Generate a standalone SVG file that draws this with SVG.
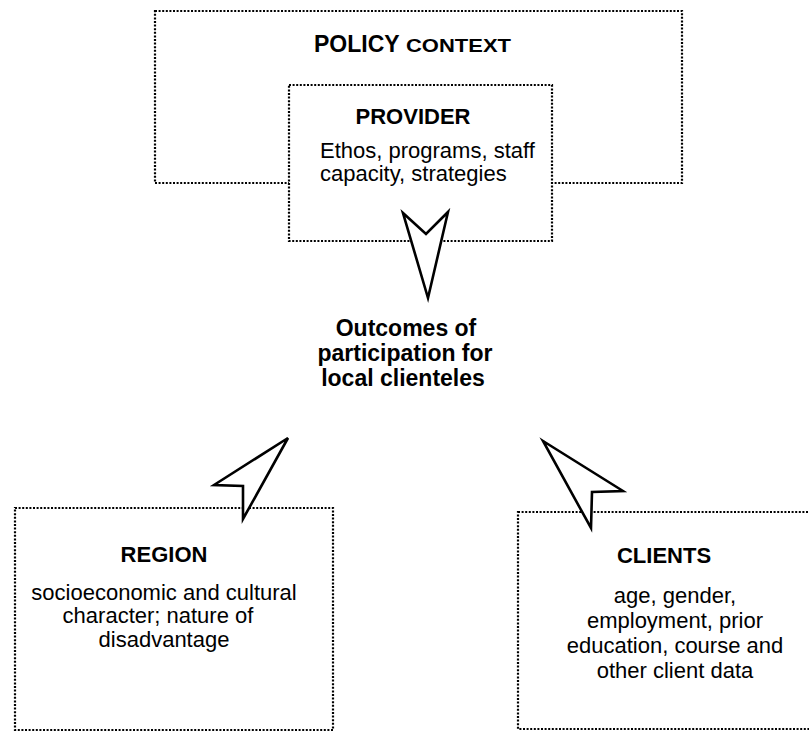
<svg xmlns="http://www.w3.org/2000/svg" width="809" height="732" viewBox="0 0 809 732">
<style>
.box{fill:#fff;stroke:#000;stroke-width:2.2;stroke-dasharray:2 1.6}
.arrow{fill:#fff;stroke:#000;stroke-width:2.6;stroke-linejoin:miter}
text{font-family:"Liberation Sans",Arial,sans-serif;fill:#000}
.h{font-weight:bold;font-size:22px;text-anchor:middle}
.o{font-weight:bold;font-size:23px;text-anchor:middle}
.t{font-size:22px}
.c{font-size:22px;text-anchor:middle}
</style>
<rect width="809" height="732" fill="#fff"/>
<g id="policy">
<rect class="box" x="155" y="11" width="527" height="172"/>
<text x="314" y="52" font-weight="bold" font-size="23">POLICY</text>
<text x="406" y="52" font-weight="bold" font-size="18.5" textLength="105" lengthAdjust="spacingAndGlyphs">CONTEXT</text>
</g>
<g id="provider">
<rect class="box" x="289" y="85" width="263" height="156"/>
<text class="h" x="413" y="124">PROVIDER</text>
<text class="t" x="320" y="158">Ethos, programs, staff</text>
<text class="t" x="320" y="181">capacity, strategies</text>
</g>
<g id="outcomes">
<text class="o" x="406" y="336">Outcomes of</text>
<text class="o" x="405" y="361">participation for</text>
<text class="o" x="403" y="386">local clienteles</text>
</g>
<g id="region">
<rect class="box" x="15" y="508" width="318" height="222"/>
<text class="h" x="164" y="562">REGION</text>
<text class="c" x="164" y="600">socioeconomic and cultural</text>
<text class="c" x="158" y="623">character; nature of</text>
<text class="c" x="164" y="647">disadvantage</text>
</g>
<g id="clients">
<rect class="box" x="518" y="512" width="300" height="217"/>
<text class="h" x="664" y="563" font-size="23">CLIENTS</text>
<text class="c" x="675" y="603">age, gender,</text>
<text class="c" x="675" y="628">employment, prior</text>
<text class="c" x="675" y="653">education, course and</text>
<text class="c" x="675" y="678">other client data</text>
</g>
<g id="connectors">
<polygon class="arrow" points="403,213 426,234 448,212 428,298"/>
<polygon class="arrow" points="288,438 214,485 243,486 243,519"/>
<polygon class="arrow" points="543,441 623,491 592,492 591,528"/>
</g>
</svg>
